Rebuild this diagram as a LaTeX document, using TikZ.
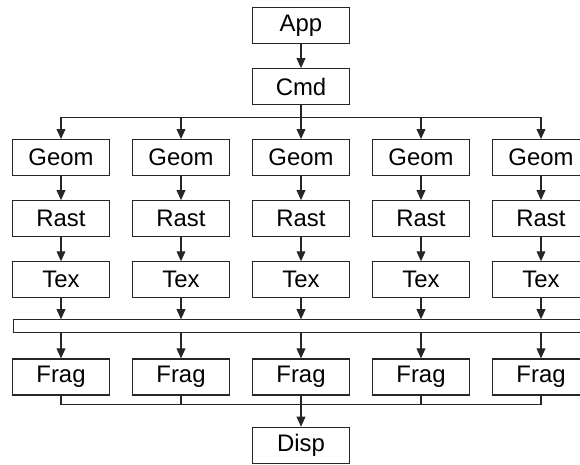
\documentclass[tikz,border=0pt]{standalone}
\usepackage{fontspec}
\setmainfont{Liberation Sans}
\usetikzlibrary{positioning,arrows.meta}

\tikzset{
  stage/.style={draw, minimum width=2.41cm, minimum height=0.9cm, inner sep=0pt,
    font=\fontsize{17}{20}\selectfont},
}

\begin{document}
\begin{tikzpicture}[line width=0.8pt, draw=black!85, node distance=0.6cm,
    >={Triangle[length=0.25cm, width=0.22cm]}]
        \clip (0,0) rectangle (14.5,-11.6);

        % Define the front end
        \node[stage] (App) at (7.525,-0.64) {App};
        \node[stage] (Cmd) [below=of App] {Cmd};

        % Define the five parallel pipelines
        \foreach \i in {1,...,5} {
            \node[stage] (Geom\i) at ({3*\i-1.475},-3.94) {Geom};
            \node[stage] (Rast\i) [below=of Geom\i] {Rast};
            \node[stage] (Tex\i) [below=of Rast\i] {Tex};
            \node[stage] (Frag\i) [below=1.5cm of Tex\i] {Frag};
        }
        \node[stage] (Disp) [below=0.78cm of Frag3] {Disp};

        % Sort bar between texturing and fragments
        \node[draw, minimum width=15cm, minimum height=0.325cm, inner sep=0pt,
            anchor=north west] (Bar) at (0.33,-7.98) {};

        % Define connections
        \draw[->] (App) -- (Cmd);
        \coordinate[below=0.3cm of Cmd.south] (split);
        \draw (Cmd) -- (split);
        \draw (Geom1.north |- split) -- (Geom5.north |- split);
        \coordinate[above=0.55cm of Disp.north] (merge);
        \draw (Frag1.south |- merge) -- (Frag5.south |- merge);
        \draw[->] (merge) -- (Disp);
        \foreach \i in {1,...,5} {
            \draw[->] (Geom\i.north |- split) -- (Geom\i);
            \draw[->] (Geom\i) -- (Rast\i);
            \draw[->] (Rast\i) -- (Tex\i);
            \draw[->] (Tex\i) -- (Tex\i.south |- Bar.north);
            \draw[->] (Frag\i.north |- Bar.south) -- (Frag\i);
            \draw (Frag\i) -- (Frag\i.south |- merge);
        }
\end{tikzpicture}
\end{document}
